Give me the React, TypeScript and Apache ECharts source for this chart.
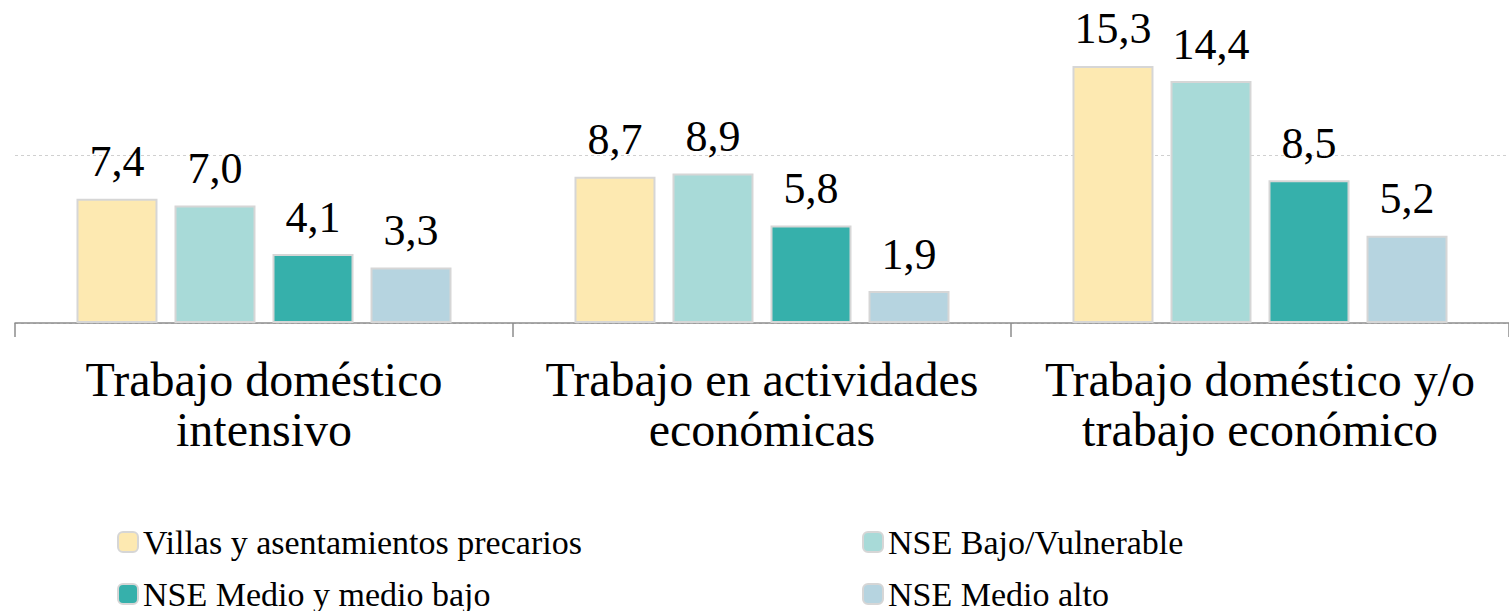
import React, { useEffect, useRef } from "react";
import * as echarts from "echarts";

const categories = [
  "Trabajo doméstico\nintensivo",
  "Trabajo en actividades\neconómicas",
  "Trabajo doméstico y/o\ntrabajo económico",
];
const seriesNames = [
  "Villas y asentamientos precarios",
  "NSE Bajo/Vulnerable",
  "NSE Medio y medio bajo",
  "NSE Medio alto",
];
const villas = [7.4, 8.7, 15.3];
const nseBajo = [7.0, 8.9, 14.4];
const nseMedioBajo = [4.1, 5.8, 8.5];
const nseMedioAlto = [3.3, 1.9, 5.2];
const colors = ["#FDE9B1", "#A8DAD8", "#36B0AB", "#B6D4E0"];

const FONT = "'Liberation Serif', 'DejaVu Serif', serif";
const OFFSET = 13;

export default function App() {
  const ref = useRef<HTMLDivElement>(null);
  useEffect(() => {
    if (!ref.current) return;
    const chart = echarts.init(ref.current, undefined, { renderer: "svg" });
    const values = [villas, nseBajo, nseMedioBajo, nseMedioAlto];
    const legendPos = [
      { left: 112, top: 520 + OFFSET },
      { left: 857, top: 520 + OFFSET },
      { left: 112, top: 572 + OFFSET },
      { left: 857, top: 572 + OFFSET },
    ];
    chart.setOption({
      animation: false,
      textStyle: { fontFamily: FONT },
      grid: { left: 15, right: -6, top: 0, bottom: 288, containLabel: false },
      legend: seriesNames.map((name, i) => ({
        left: legendPos[i].left,
        top: legendPos[i].top,
        orient: "horizontal",
        itemWidth: 20,
        itemHeight: 20,
        itemGap: 10,
        data: [name],
        textStyle: { fontFamily: FONT, fontSize: 34, color: "#000", lineHeight: 34 },
      })),
      xAxis: {
        type: "category",
        data: categories,
        axisLine: { show: true, lineStyle: { color: "#8c8c8c", width: 1.5 } },
        axisTick: { show: true, length: 14, lineStyle: { color: "#8c8c8c", width: 1.5 } },
        axisLabel: {
          fontFamily: FONT,
          fontSize: 48,
          color: "#000",
          lineHeight: 50,
          margin: 31,
          interval: 0,
        },
      },
      yAxis: {
        type: "value",
        min: 0,
        max: 20,
        interval: 10,
        axisLabel: { show: false },
        axisLine: { show: false },
        axisTick: { show: false },
        splitLine: { show: true, lineStyle: { color: "#d0d0d0", type: [3, 3], width: 1 } },
      },
      series: seriesNames.map((name, i) => ({
        name,
        type: "bar",
        data: values[i],
        barWidth: 81,
        barGap: "21%",
        itemStyle: { color: colors[i], borderColor: "#d6d6d6", borderWidth: 2 },
        label: {
          show: true,
          position: "top",
          distance: 15,
          fontFamily: FONT,
          fontSize: 44,
          color: "#000",
          formatter: (p: any) => p.value.toFixed(1).replace(".", ","),
        },
      })),
    });
    return () => chart.dispose();
  }, []);
  return (
    <div
      ref={ref}
      style={{ position: "absolute", left: 0, top: -OFFSET, width: 1509, height: 611 + OFFSET }}
    />
  );
}
